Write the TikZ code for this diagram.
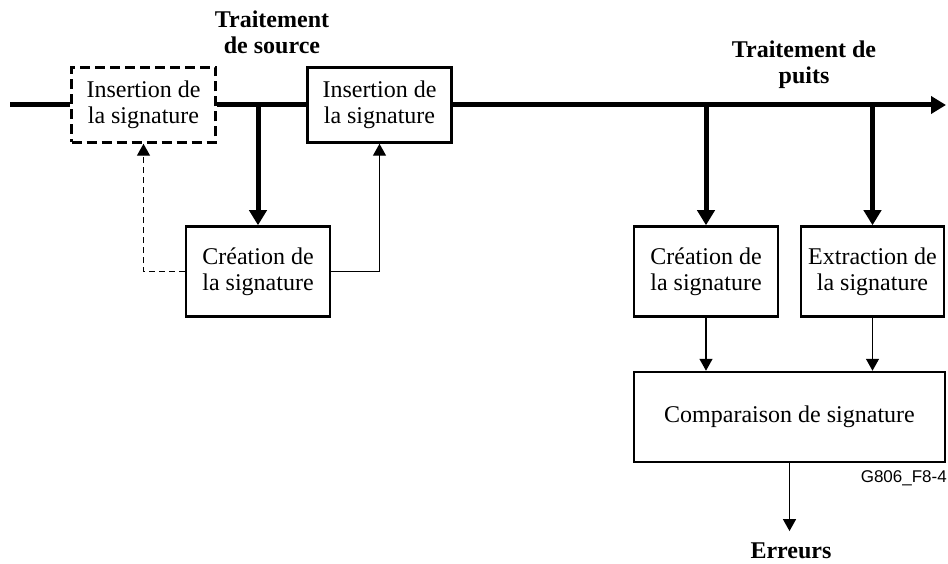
\documentclass[tikz,border=0pt]{standalone}
\usepackage{fontspec}
\setmainfont{Liberation Serif}
\newfontfamily\figfont{Liberation Sans}
\usepackage{tikz}
\usetikzlibrary{arrows.meta,positioning,calc}
\tikzset{
  blk/.style={draw, line width=2.5pt, align=center, minimum width=144pt, minimum height=90pt, inner sep=2pt, font=\fontsize{24}{26}\selectfont},
  optblk/.style={blk, dash pattern=on 10pt off 5pt},
  head/.style={font=\fontsize{24}{26}\selectfont\bfseries, align=center, inner sep=0pt},
  bus/.style={line width=5pt},
  busarrow/.style={line width=5pt, -{Triangle[length=15pt,width=17pt]}},
  tap/.style={line width=5pt, -{Triangle[length=15pt,width=17pt]}},
  sig/.style={line width=1.4pt, -{Triangle[length=12pt,width=13pt]}},
  optsig/.style={sig, dash pattern=on 6pt off 4pt},
}

\begin{document}
\begin{tikzpicture}[x=1pt, y=-1pt]
\useasboundingbox (0,0) rectangle (948,564);
% source side
\node[optblk, minimum height=75pt] (ins1) at (143.5,105) {Insertion de\\la signature};
\node[blk, minimum height=75pt] (ins2) at (379.5,105) {Insertion de\\la signature};
\node[blk] (cre1) at (258,271.5) {Création de\\la signature};
% sink side
\node[blk] (cre2) at (706,271.5) {Création de\\la signature};
\node[blk, minimum width=143pt] (ext) at (872.5,271.5) {Extraction de\\la signature};
\node[blk, minimum width=311pt] (cmp) at (789.5,417) {Comparaison de signature};
\node[head] (src) at (272,32) {Traitement\\de source};
\node[head] (snk) at (804,65) {Traitement de\\puits};
\node[head, anchor=base] (err) at (791,558) {Erreurs};
\node[font=\figfont\fontsize{17}{19}\selectfont, anchor=base east, inner sep=0pt] (ref) at (947,482) {G806\_F8-4};
\coordinate (in) at (10,105);
\coordinate (out) at (946,105);
\draw[bus] (in) -- (ins1.west);
\draw[bus] (ins1.east) -- (ins2.west);
\draw[busarrow] (ins2.east) -- (out);
\draw[tap] (cre1.north |- out) -- (cre1.north);
\draw[tap] (cre2.north |- out) -- (cre2.north);
\draw[tap] (ext.north |- out) -- (ext.north);
\draw[optsig] (cre1.west) -| (ins1.south);
\draw[sig] (cre1.east) -| (ins2.south);
\draw[sig] (cre2.south) -- (cre2.south |- cmp.north);
\draw[sig] (ext.south) -- (ext.south |- cmp.north);
\draw[sig, shorten >=11pt] (cmp.south) -- (cmp.south |- err.north);
\end{tikzpicture}
\end{document}
